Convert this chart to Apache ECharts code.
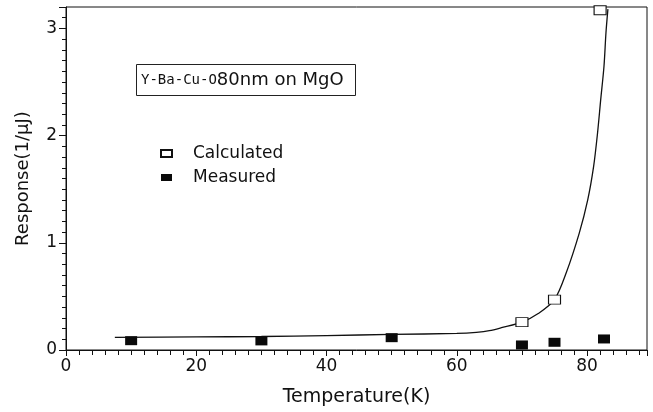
<!DOCTYPE html>
<html>
<head>
<meta charset="utf-8">
<script src="https://cdn.jsdelivr.net/npm/echarts@6/dist/echarts.min.js"></script>
<style>html,body{margin:0;padding:0;background:#fff;}#c{width:653px;height:412px;}</style>
</head>
<body>
<div id="c"></div>
<script>
// Data
const calcTemps = [70, 75, 82];
const calcValues = [0.26, 0.47, 3.17];
const measTemps = [10, 30, 50, 70, 75, 82.6];
const measValues = [0.087, 0.085, 0.115, 0.047, 0.072, 0.103];
const fitTemps = [7.5, 20, 30, 40, 50, 60, 63, 65, 67, 70, 72.5, 75, 76.8, 78.8, 80.1, 81.0, 81.6, 82.1, 82.6, 82.9, 83.2];
const fitValues = [0.118, 0.122, 0.126, 0.135, 0.145, 0.155, 0.165, 0.18, 0.21, 0.26, 0.34, 0.47, 0.72, 1.09, 1.40, 1.71, 2.02, 2.34, 2.65, 2.96, 3.18];
const xTickLabels = [0, 20, 40, 60, 80];
const yTickLabels = [0, 1, 2, 3];

const FONT = 'DejaVu Sans';
const zip = (a, b) => a.map((v, i) => [v, b[i]]);

const chart = echarts.init(document.getElementById('c'), null, {renderer: 'canvas'});
const xMin = 0, xMax = 89.2, yMin = 0, yMax = 3.2;
chart.setOption({
  animation: false,
  backgroundColor: '#fff',
  grid: {left: 66, right: 6, top: 7, bottom: 62, show: true, borderColor: '#111', borderWidth: 1, backgroundColor: 'transparent'},
  title: {
    left: 136, top: 64,
    text: '{s|Y-Ba-Cu-O}{b|80nm on MgO}',
    padding: [7, 12, 7, 5],
    borderColor: '#222', borderWidth: 1,
    textStyle: {
      fontWeight: 'normal',
      rich: {
        s: {fontFamily: 'DejaVu Sans Mono', fontSize: 14, color: '#111', fontWeight: 'normal'},
        b: {fontFamily: FONT, fontSize: 18, color: '#111', fontWeight: 'normal'}
      }
    }
  },
  legend: {
    left: 155, top: 140, orient: 'vertical',
    itemWidth: 11, itemHeight: 7, itemGap: 7,
    data: ['Calculated', 'Measured'],
    textStyle: {fontFamily: FONT, fontSize: 17, color: '#111', padding: [0, 0, 0, 16]}
  },
  xAxis: [
    {
      type: 'value', min: xMin, max: xMax, interval: 20, position: 'bottom',
      name: 'Temperature(K)', nameLocation: 'middle', nameGap: 38,
      nameTextStyle: {fontFamily: FONT, fontSize: 19, color: '#111'},
      axisLine: {show: true, lineStyle: {color: '#111', width: 1}},
      axisTick: {show: true, length: 6, lineStyle: {color: '#111'}},
      axisLabel: {fontFamily: FONT, fontSize: 17, color: '#111', margin: 8,
        formatter: v => xTickLabels.indexOf(v) >= 0 ? String(v) : ''},
      splitLine: {show: false}
    },
    {
      type: 'value', min: xMin, max: xMax, interval: 2, position: 'bottom',
      axisLine: {show: false},
      axisTick: {show: true, length: 5, lineStyle: {color: '#111'}},
      axisLabel: {show: false},
      splitLine: {show: false}
    }
  ],
  yAxis: [
    {
      type: 'value', min: yMin, max: yMax, interval: 1, position: 'left',
      name: 'Response(1/µJ)', nameLocation: 'middle', nameGap: 34,
      nameTextStyle: {fontFamily: FONT, fontSize: 18, color: '#111'},
      axisLine: {show: true, lineStyle: {color: '#111', width: 1}},
      axisTick: {show: true, length: 7, lineStyle: {color: '#111'}},
      axisLabel: {fontFamily: FONT, fontSize: 17, color: '#111', margin: 9,
        formatter: v => yTickLabels.indexOf(v) >= 0 ? String(v) : ''},
      splitLine: {show: false}
    },
    {
      type: 'value', min: yMin, max: yMax, interval: 0.1, position: 'left',
      axisLine: {show: false},
      axisTick: {show: true, length: 4, lineStyle: {color: '#111'}},
      axisLabel: {show: false},
      splitLine: {show: false}
    }
  ],
  series: [
    {
      name: 'fit', type: 'line', xAxisIndex: 0, yAxisIndex: 0,
      data: zip(fitTemps, fitValues), smooth: 0.3,
      showSymbol: false, symbol: 'none',
      lineStyle: {color: '#111', width: 1.3}, z: 2
    },
    {
      name: 'Calculated', type: 'scatter', xAxisIndex: 0, yAxisIndex: 0,
      data: zip(calcTemps, calcValues), symbol: 'rect', symbolSize: [12, 9],
      itemStyle: {color: '#fff', borderColor: '#111', borderWidth: 1, opacity: 1}, z: 3
    },
    {
      name: 'Measured', type: 'scatter', xAxisIndex: 0, yAxisIndex: 0,
      data: zip(measTemps, measValues), symbol: 'rect', symbolSize: [12, 9],
      itemStyle: {color: '#0a0a0a', opacity: 1}, z: 4
    }
  ]
});
</script>
</body>
</html>
